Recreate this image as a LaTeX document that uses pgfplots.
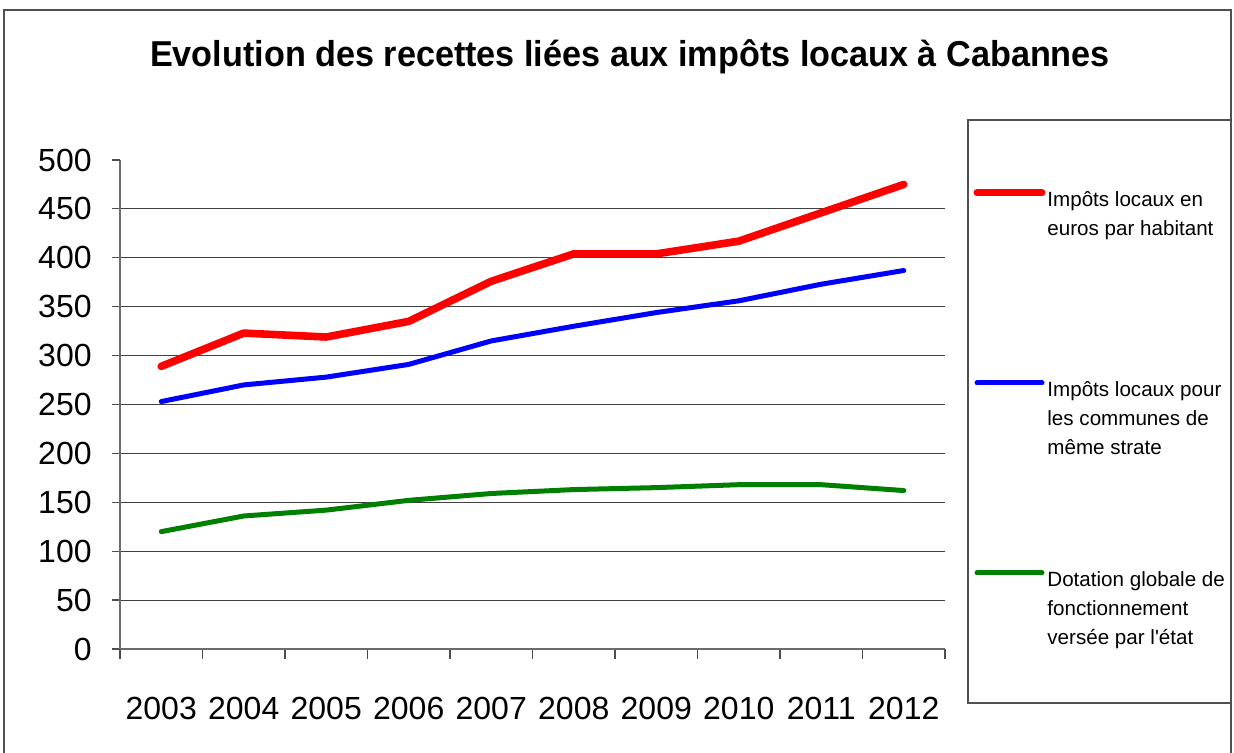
\documentclass[border=0pt]{standalone}
\usepackage{fontspec}
\setmainfont{Liberation Sans}
\usepackage{pgfplots}
\pgfplotsset{compat=1.18}
\definecolor{xlred}{RGB}{255,0,0}
\definecolor{xlblue}{RGB}{0,0,255}
\definecolor{xlgreen}{RGB}{0,128,0}
\definecolor{framegray}{RGB}{80,80,80}
\begin{document}
\begin{tikzpicture}[x=0.5pt,y=0.5pt]
\path[use as bounding box] (0,0) rectangle (1234,753);
% outer frame
\draw[framegray, line width=0.8pt] (4,-5) -- (4,743) -- (1231,743) -- (1231,-5);
% title
\node[anchor=base, inner sep=0pt, font=\bfseries\fontsize{18}{21}\selectfont] at (630,686)
  {\scalebox{0.95}[1]{Evolution des recettes liées aux impôts locaux à Cabannes}};
\begin{axis}[
  at={(60pt,52pt)}, anchor=south west,
  scale only axis, width=412.5pt, height=244.5pt,
  xmin=0.5, xmax=10.5, ymin=0, ymax=500,
  axis lines*=left,
  axis line style={-, draw=gray!85!black, line width=0.9pt},
  xtick={1,...,10},
  xticklabels={2003,2004,2005,2006,2007,2008,2009,2010,2011,2012},
  major x tick style={draw=none},
  minor xtick={0.5,1.5,...,10.5},
  minor x tick style={draw=gray!60!black, line width=0.6pt},
  minor tick length=5pt,
  tick align=outside,
  ytick={0,50,...,450},
  extra y ticks={500},
  extra y tick style={grid=none},
  major y tick style={draw=gray!60!black, line width=0.6pt},
  major tick length=4pt,
  ymajorgrids,
  grid style={black!75, line width=0.5pt},
  tick label style={font=\fontsize{16}{19}\selectfont},
  /pgf/number format/assume math mode=true,
  xticklabel style={anchor=base, yshift=-31.5pt},
  yticklabel style={anchor=east, inner sep=0pt, xshift=-10pt},
  clip=false,
]
\addplot[xlred, line width=3.8pt, line cap=round, line join=round] coordinates {
 (1,289) (2,323) (3,319) (4,335) (5,376) (6,404) (7,404) (8,417) (9,446) (10,475)};
\addplot[xlblue, line width=2.5pt, line cap=round, line join=round] coordinates {
 (1,253) (2,270) (3,278) (4,291) (5,315) (6,330) (7,344) (8,356) (9,373) (10,387)};
\addplot[xlgreen, line width=2.5pt, line cap=round, line join=round] coordinates {
 (1,120) (2,136) (3,142) (4,152) (5,159) (6,163) (7,165) (8,168) (9,168) (10,162)};
\end{axis}
% legend
\draw[framegray, line width=0.8pt] (968,633) rectangle (1231,50);
\draw[xlred, line width=3.5pt, line cap=round] (977,560) -- (1042,560);
\draw[xlblue, line width=2.5pt, line cap=round] (977,370) -- (1042,370);
\draw[xlgreen, line width=2.5pt, line cap=round] (977,180) -- (1042,180);
\begin{scope}[every node/.style={anchor=base west, inner sep=0pt, font=\fontsize{10.3}{12}\selectfont}]
\node at (1047,546) {Impôts locaux en};
\node at (1047,517) {euros par habitant};
\node at (1047,356) {Impôts locaux pour};
\node at (1047,327) {les communes de};
\node at (1047,298) {même strate};
\node at (1047,166) {Dotation globale de};
\node at (1047,137) {fonctionnement};
\node at (1047,108) {versée par l\textquotesingle état};
\end{scope}
\end{tikzpicture}
\end{document}
